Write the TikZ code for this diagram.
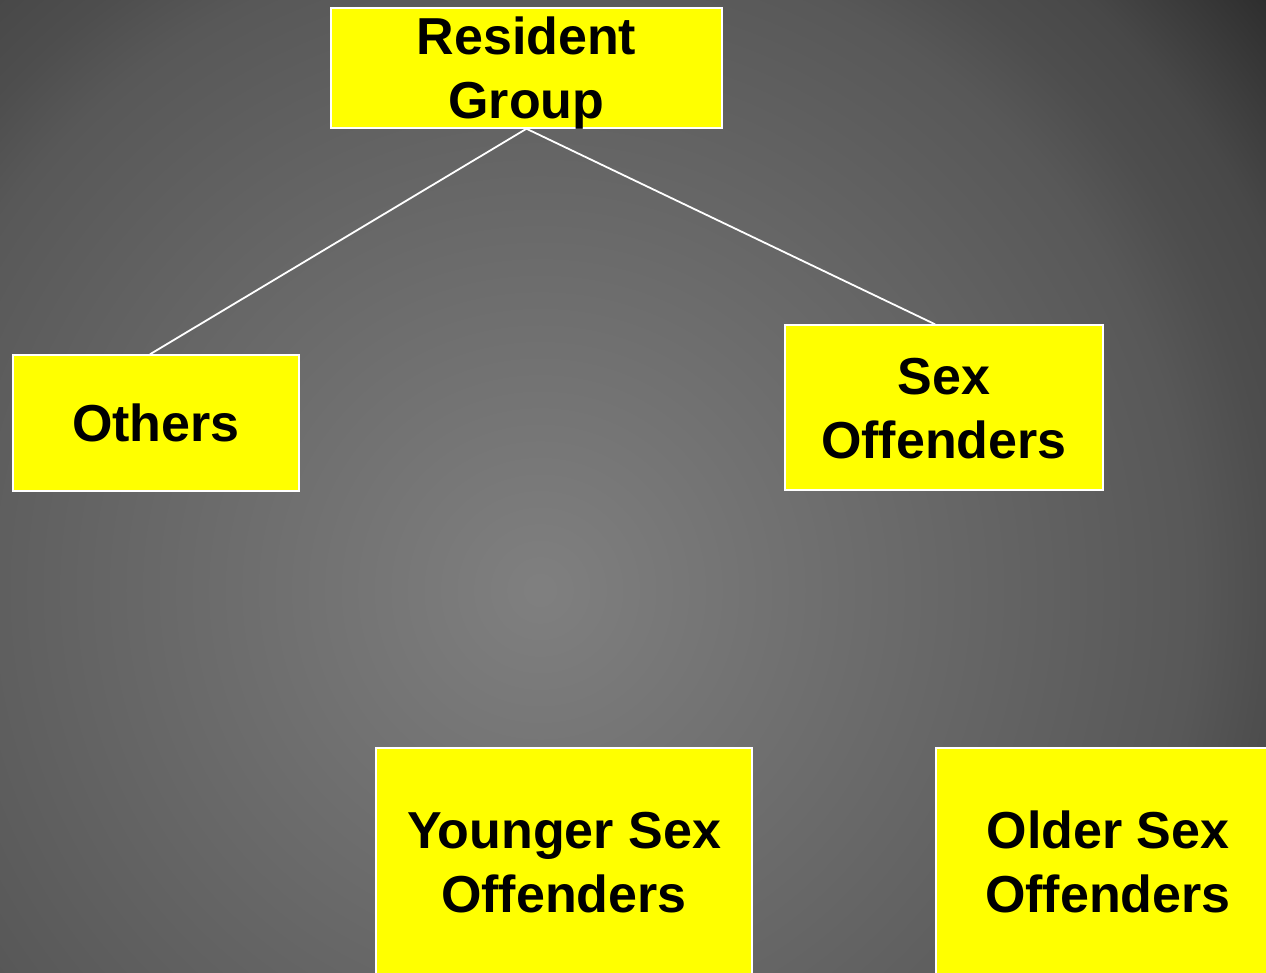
\documentclass[tikz,border=0pt]{standalone}
\usepackage{fontspec}
\setmainfont{Liberation Sans}
\definecolor{boxyellow}{RGB}{255,255,0}
\pgfdeclareradialshading{slidebg}{\pgfpoint{0bp}{0bp}}{rgb(0bp)=(0.5,0.5,0.5); rgb(17.5bp)=(0.345,0.345,0.345); rgb(19.5bp)=(0.305,0.305,0.305); rgb(21.5bp)=(0.282,0.282,0.282); rgb(25bp)=(0.18,0.18,0.18); rgb(50bp)=(0.18,0.18,0.18)}
\tikzset{
  groupbox/.style = {draw=white, line width=1.5pt, fill=boxyellow, inner sep=0pt, align=center,
    font=\fontsize{52}{64}\selectfont\bfseries, text=black, text height=37.2pt, text depth=0pt},
  twolines/.style = {text height=101.2pt},
  split/.style = {draw=white, line width=1.8pt}
}
\begin{document}
\begin{tikzpicture}[x=1pt, y=-1pt]
\useasboundingbox (0,0) rectangle (1266,973);
\clip (0,0) rectangle (1266,973);
\shade[shading=slidebg] (-395,-345) rectangle (1475,1525);

\node[groupbox, twolines, minimum width=391pt, minimum height=120pt] (res) at (526.5,68) {Resident\\Group};
\node[groupbox, minimum width=286pt, minimum height=136pt] (oth) at (156,423) {Others};
\node[groupbox, twolines, minimum width=318pt, minimum height=165pt] (sex) at (944,407.5) {Sex\\Offenders};
\node[groupbox, twolines, minimum width=376pt, minimum height=228pt] (yng) at (564,862) {Younger Sex\\Offenders};
\node[groupbox, twolines, minimum width=344pt, minimum height=228pt] (old) at (1108,862) {Older Sex\\Offenders};

\draw[split] (res.south) -- ([xshift=-6pt]oth.north);
\draw[split] (res.south) -- ([xshift=-9pt]sex.north);
\end{tikzpicture}
\end{document}
